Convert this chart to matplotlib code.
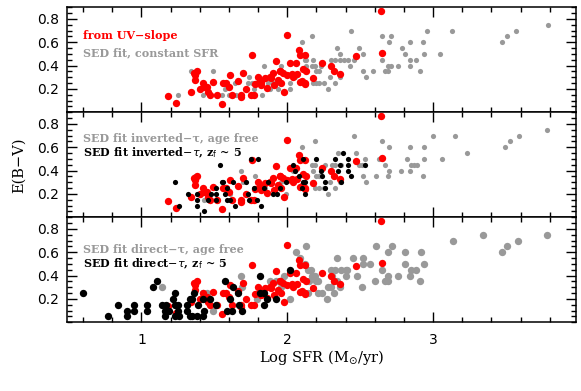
import matplotlib
matplotlib.use("Agg")
import matplotlib.pyplot as plt
from matplotlib.ticker import MultipleLocator, NullFormatter
import numpy as np

# ---------------- data ----------------
red_x = [1.18, 1.24, 1.34, 1.36, 1.38, 1.37, 1.40, 1.42, 1.43, 1.46, 1.47, 1.49, 1.52, 1.55, 1.56,
         1.58, 1.60, 1.61, 1.62, 1.66, 1.68, 1.68, 1.70, 1.72, 1.76, 1.77, 1.78, 1.80, 1.81, 1.82,
         1.85, 1.86, 1.88, 1.90, 1.92, 1.91, 1.94, 1.95, 1.97, 1.98, 2.00, 2.02, 2.04, 2.06, 2.07,
         2.08, 2.09, 2.12, 2.09, 2.12, 2.13, 2.00, 2.11, 2.12, 2.10, 2.18, 2.24, 2.30, 2.32, 2.36,
         2.47, 2.65, 2.64, 1.755, 1.82, 1.89, 1.95, 1.96, 2.03, 1.37, 1.45]
red_y = [0.14, 0.08, 0.17, 0.34, 0.35, 0.28, 0.20, 0.25, 0.22, 0.17, 0.15, 0.26, 0.15, 0.07, 0.25,
         0.25, 0.22, 0.32, 0.15, 0.27, 0.15, 0.13, 0.34, 0.20, 0.49, 0.15, 0.24, 0.30, 0.27, 0.23,
         0.29, 0.21, 0.30, 0.34, 0.44, 0.23, 0.28, 0.35, 0.34, 0.17, 0.32, 0.42, 0.30, 0.42, 0.33,
         0.53, 0.49, 0.49, 0.26, 0.25, 0.35, 0.66, 0.37, 0.24, 0.27, 0.29, 0.42, 0.40, 0.35, 0.33,
         0.48, 0.51, 0.87, 0.15, 0.26, 0.29, 0.35, 0.25, 0.33, 0.32, 0.22]

gray1_x = [1.25, 1.34, 1.49, 1.42, 1.55, 1.65, 1.60, 1.57, 1.64, 1.73, 1.74, 1.76, 1.78, 1.77, 1.83,
           1.84, 1.87, 1.88, 1.90, 1.93, 1.94, 1.96, 1.96, 2.02, 2.02, 2.05, 2.10, 2.13, 2.13, 2.17,
           2.12, 2.18, 2.17, 2.19, 2.20, 2.22, 2.23, 2.18, 2.20, 2.22, 2.25, 2.28, 2.29, 2.30, 2.33,
           2.36, 2.34, 2.36, 2.33, 2.36, 2.39, 2.42, 2.43, 2.44, 2.46, 2.49, 2.52, 2.52, 2.54, 2.59,
           2.65, 2.65, 2.70, 2.71, 2.69, 2.71, 2.67, 2.69, 2.76, 2.79, 2.81, 2.84, 2.84, 2.84, 2.88,
           2.91, 2.93, 2.94, 2.96, 3.05, 3.13, 3.47, 3.51, 3.57, 3.79]
gray1_y = [0.15, 0.35, 0.35, 0.15, 0.15, 0.15, 0.15, 0.20, 0.25, 0.25, 0.30, 0.25, 0.25, 0.20, 0.15,
           0.40, 0.25, 0.20, 0.25, 0.25, 0.20, 0.25, 0.40, 0.20, 0.25, 0.30, 0.60, 0.45, 0.40, 0.65,
           0.45, 0.45, 0.40, 0.40, 0.35, 0.35, 0.40, 0.25, 0.25, 0.25, 0.25, 0.20, 0.30, 0.45, 0.45,
           0.45, 0.55, 0.50, 0.25, 0.30, 0.45, 0.45, 0.40, 0.70, 0.45, 0.55, 0.50, 0.35, 0.30, 0.35,
           0.65, 0.45, 0.60, 0.65, 0.40, 0.40, 0.35, 0.35, 0.40, 0.55, 0.50, 0.60, 0.45, 0.40, 0.45,
           0.35, 0.60, 0.50, 0.70, 0.50, 0.70, 0.60, 0.65, 0.70, 0.75]

gray2_x = [1.37, 1.43, 1.61, 1.68, 1.70, 1.78, 1.79, 1.85, 1.875, 1.93, 1.96, 1.99, 2.04, 2.10, 2.17,
           2.18, 2.20, 2.19, 2.19, 2.22, 2.26, 2.18, 2.19, 2.22, 2.25, 2.29, 2.28, 2.31, 2.33, 2.37,
           2.35, 2.33, 2.36, 2.46, 2.47, 2.49, 2.53, 2.51, 2.52, 2.54, 2.61, 2.63, 2.65, 2.67, 2.70,
           2.69, 2.70, 2.78, 2.82, 2.84, 2.84, 2.85, 2.87, 2.89, 2.93, 2.94, 2.94, 3.00, 3.06, 3.15,
           3.23, 3.49, 3.53, 3.59, 3.78]
gray2_y = [0.35, 0.15, 0.20, 0.40, 0.30, 0.35, 0.25, 0.25, 0.30, 0.25, 0.30, 0.20, 0.40, 0.60, 0.45,
           0.40, 0.35, 0.65, 0.45, 0.35, 0.45, 0.30, 0.25, 0.25, 0.25, 0.30, 0.20, 0.45, 0.45, 0.45,
           0.55, 0.25, 0.30, 0.70, 0.55, 0.45, 0.50, 0.45, 0.35, 0.30, 0.35, 0.50, 0.65, 0.45, 0.60,
           0.35, 0.40, 0.40, 0.50, 0.60, 0.40, 0.45, 0.45, 0.45, 0.35, 0.60, 0.50, 0.70, 0.50, 0.70,
           0.55, 0.60, 0.65, 0.70, 0.75]

black2_x = [1.23, 1.26, 1.32, 1.38, 1.43, 1.54, 1.51, 1.51, 1.56, 1.59, 1.38, 1.38, 1.46, 1.48, 1.515,
            1.55, 1.57, 1.59, 1.61, 1.63, 1.64, 1.72, 1.73, 1.74, 1.755, 1.80, 1.77, 1.79, 1.82, 1.84,
            1.87, 1.90, 1.93, 1.95, 1.99, 2.04, 2.05, 2.08, 2.10, 2.12, 2.12, 2.20, 2.11, 2.11, 2.23,
            2.24, 2.26, 2.26, 2.33, 2.35, 2.36, 2.38, 2.37, 2.42, 2.42, 2.42, 2.44, 2.53]
black2_y = [0.30, 0.10, 0.20, 0.10, 0.05, 0.45, 0.20, 0.15, 0.30, 0.25, 0.20, 0.15, 0.15, 0.20, 0.25,
            0.30, 0.20, 0.15, 0.15, 0.30, 0.10, 0.30, 0.20, 0.15, 0.50, 0.50, 0.25, 0.15, 0.10, 0.25,
            0.30, 0.20, 0.20, 0.25, 0.30, 0.45, 0.40, 0.35, 0.25, 0.30, 0.20, 0.50, 0.50, 0.30, 0.40,
            0.35, 0.30, 0.25, 0.50, 0.40, 0.45, 0.55, 0.30, 0.50, 0.45, 0.40, 0.35, 0.45]

gray3_x = [1.14, 1.42, 1.45, 1.49, 1.68, 1.69, 1.79, 1.88, 1.92, 1.96, 1.98, 2.02, 2.06, 2.13, 2.09,
           2.12, 2.14, 2.17, 2.20, 2.14, 2.16, 2.19, 2.15, 2.21, 2.21, 2.24, 2.27, 2.28, 2.30, 2.31,
           2.30, 2.33, 2.37, 2.40, 2.41, 2.34, 2.32, 2.34, 2.32, 2.36, 2.40, 2.45, 2.48, 2.51, 2.52,
           2.52, 2.57, 2.60, 2.61, 2.65, 2.67, 2.69, 2.69, 2.69, 2.72, 2.76, 2.81, 2.81, 2.84, 2.85,
           2.88, 2.91, 2.92, 2.94, 3.14, 3.34, 3.47, 3.51, 3.58, 3.78]
gray3_y = [0.30, 0.25, 0.25, 0.10, 0.40, 0.30, 0.20, 0.35, 0.35, 0.30, 0.40, 0.20, 0.60, 0.65, 0.55,
           0.50, 0.45, 0.40, 0.35, 0.25, 0.45, 0.40, 0.35, 0.35, 0.25, 0.25, 0.20, 0.30, 0.30, 0.40,
           0.45, 0.45, 0.45, 0.45, 0.45, 0.55, 0.35, 0.35, 0.25, 0.30, 0.40, 0.55, 0.40, 0.30, 0.55,
           0.50, 0.50, 0.35, 0.65, 0.45, 0.35, 0.35, 0.40, 0.60, 0.65, 0.40, 0.60, 0.50, 0.40, 0.45,
           0.45, 0.35, 0.60, 0.50, 0.70, 0.75, 0.60, 0.65, 0.70, 0.75]

black3_x = [0.60, 0.77, 0.84, 0.90, 0.90, 0.95, 0.95, 1.04, 1.04, 1.08, 1.11, 1.14, 1.17, 1.16, 1.16,
            1.19, 1.23, 1.22, 1.23, 1.25, 1.25, 1.26, 1.23, 1.31, 1.33, 1.35, 1.36, 1.31, 1.33, 1.35,
            1.38, 1.39, 1.42, 1.43, 1.42, 1.47, 1.51, 1.57, 1.59, 1.62, 1.61, 1.63, 1.66, 1.67, 1.69,
            1.81, 1.81, 1.84, 1.86, 1.84, 2.02, 1.92]
black3_y = [0.25, 0.05, 0.15, 0.10, 0.05, 0.15, 0.10, 0.15, 0.10, 0.30, 0.35, 0.15, 0.15, 0.10, 0.05,
            0.10, 0.25, 0.20, 0.15, 0.15, 0.10, 0.05, 0.05, 0.15, 0.20, 0.20, 0.25, 0.10, 0.05, 0.05,
            0.05, 0.15, 0.20, 0.10, 0.05, 0.20, 0.15, 0.35, 0.10, 0.10, 0.20, 0.30, 0.25, 0.15, 0.10,
            0.40, 0.25, 0.25, 0.20, 0.15, 0.45, 0.20]

labels_top = ["from UV\u2212slope", "SED fit, constant SFR"]
labels_mid = ["SED fit inverted\u2212\u03c4, age free", r"SED fit inverted$-\tau$, z$_{\rm f}$ ~ 5"]
labels_bot = ["SED fit direct\u2212\u03c4, age free", r"SED fit direct$-\tau$, z$_{\rm f}$ ~ 5"]

RED = "#ff0000"
GRAY = "#999999"
BLACK = "#000000"

# ---------------- figure ----------------
W, H = 581, 391
fig = plt.figure(figsize=(W / 100, H / 100), dpi=100)
left = 67 / W
width = 509 / W
ph = 105 / H
bottoms = [1 - 112.3 / H, 1 - 217.3 / H, 1 - 322.3 / H]
axes = [fig.add_axes([left, b, width, ph]) for b in bottoms]

s_small = 14
s_big = 28

ax = axes[0]
ax.scatter(gray1_x, gray1_y, s=s_small, c=GRAY, linewidths=0, zorder=2)
ax.scatter(red_x, red_y, s=s_big, c=RED, linewidths=0, zorder=3)

ax = axes[1]
ax.scatter(gray2_x, gray2_y, s=s_small, c=GRAY, linewidths=0, zorder=2)
ax.scatter(red_x, red_y, s=s_big, c=RED, linewidths=0, zorder=3)
ax.scatter(black2_x, black2_y, s=s_small, c=BLACK, linewidths=0, zorder=4)

ax = axes[2]
ax.scatter(gray3_x, gray3_y, s=s_big, c=GRAY, linewidths=0, zorder=2)
ax.scatter(red_x, red_y, s=s_big, c=RED, linewidths=0, zorder=3)
ax.scatter(black3_x, black3_y, s=s_big, c=BLACK, linewidths=0, zorder=4)

for i, ax in enumerate(axes):
    ax.set_xlim(0.49, 3.98)
    ax.set_ylim(0.0, 0.9)
    ax.xaxis.set_major_locator(MultipleLocator(1))
    ax.xaxis.set_minor_locator(MultipleLocator(0.2))
    ax.yaxis.set_major_locator(MultipleLocator(0.2))
    ax.yaxis.set_minor_locator(MultipleLocator(0.05))
    ax.tick_params(which="both", direction="in", top=True, right=True, width=1.0,
                   labelsize=10, pad=6)
    ax.tick_params(which="major", length=7)
    ax.tick_params(which="minor", length=3.5)
    ax.set_yticks([0.2, 0.4, 0.6, 0.8])
    for sp in ax.spines.values():
        sp.set_linewidth(1.1)
    if i < 2:
        ax.xaxis.set_major_formatter(NullFormatter())
    else:
        ax.set_xticks([1, 2, 3])
        ax.set_xticklabels(["1", "2", "3"])
        ax.tick_params(axis="x", which="major", pad=8)

tfont = dict(family="DejaVu Serif", fontweight="bold", fontsize=8)
axes[0].text(0.031, 0.736, labels_top[0], color=RED, transform=axes[0].transAxes, va="center", **tfont)
axes[0].text(0.031, 0.568, labels_top[1], color=GRAY, transform=axes[0].transAxes, va="center", **tfont)
axes[1].text(0.031, 0.752, labels_mid[0], color=GRAY, transform=axes[1].transAxes, va="center", **tfont)
axes[1].text(0.031, 0.615, labels_mid[1], color=BLACK, transform=axes[1].transAxes, va="center", **tfont)
axes[2].text(0.031, 0.689, labels_bot[0], color=GRAY, transform=axes[2].transAxes, va="center", **tfont)
axes[2].text(0.031, 0.556, labels_bot[1], color=BLACK, transform=axes[2].transAxes, va="center", **tfont)

fig.text(321.5 / W, 1 - 358 / H, r"Log SFR (M$_{\odot}$/yr)", ha="center", va="center",
         fontsize=10.5, family="DejaVu Serif")
fig.text(19 / W, 1 - 165 / H, "E(B\u2212V)", ha="center", va="center", rotation=90,
         fontsize=10.5, family="DejaVu Serif")

fig.savefig("out.png", dpi=100)
